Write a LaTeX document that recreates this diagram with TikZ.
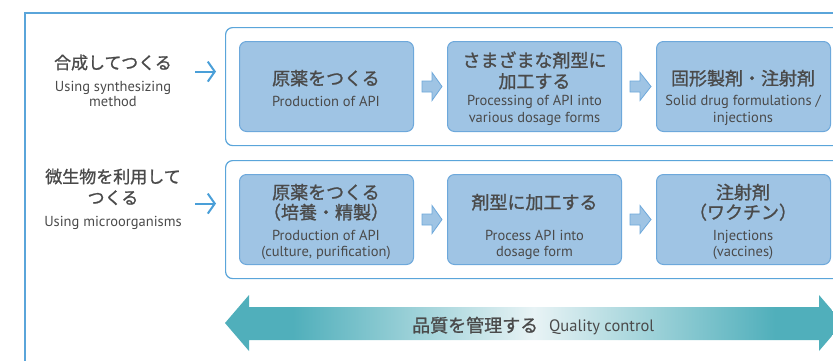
\documentclass[tikz,border=0pt]{standalone}
\usepackage{fontspec}
\setmainfont{PT Sans}
\newfontfamily\jpfont[FakeBold=1.2]{Noto Sans CJK JP}
\usetikzlibrary{calc,arrows.meta}
\definecolor{framec}{HTML}{5AA5DA}
\definecolor{boxfill}{HTML}{9FC4E4}
\definecolor{boxdraw}{HTML}{6DA8DB}
\definecolor{txt}{HTML}{4A4A4A}
\definecolor{tealc}{HTML}{50AFBB}
\definecolor{lightc}{HTML}{E8F3F5}
\definecolor{arrc}{HTML}{4A9FD8}
\pgfdeclarehorizontalshading{qcshade}{100bp}{color(0bp)=(tealc); color(25bp)=(tealc); color(30.5bp)=(tealc); color(50bp)=(lightc); color(69.5bp)=(tealc); color(75bp)=(tealc); color(100bp)=(tealc)}
\tikzset{
  rowbox/.style={draw=framec, line width=1.2pt, fill=white, rounded corners=7pt, minimum width=640pt, minimum height=118pt, inner sep=0pt, anchor=north west},
  stepbox/.style={draw=boxdraw, line width=1pt, fill=boxfill, rounded corners=7pt, minimum width=174pt, minimum height=90pt, inner sep=0pt, anchor=north west},
  jp/.style={font=\jpfont\fontsize{18}{20}\selectfont, text=txt, anchor=base, inner sep=0pt},
  jpl/.style={font=\jpfont\fontsize{17}{20}\selectfont, text=txt, anchor=base, inner sep=0pt},
  en/.style={font=\fontsize{14.5}{16}\selectfont, text=txt, anchor=base, inner sep=0pt},
  barrow/.style={draw=boxdraw, line width=0.8pt, fill=boxfill},
  thinarrow/.style={draw=arrc, line width=2pt, -{Straight Barb[length=7pt,width=20pt]}},
}
\newcommand\blockarr[2]{%
  \draw[barrow] ($(#1.east)+(8,-5.5)$) -- ($(#1.east)+(18,-5.5)$) -- ($(#1.east)+(18,-14)$)
    -- ($(#2.west)+(-5,0)$) -- ($(#1.east)+(18,14)$) -- ($(#1.east)+(18,5.5)$)
    -- ($(#1.east)+(8,5.5)$) -- cycle;}
\begin{document}
\begin{tikzpicture}[x=1pt,y=-1pt]
\useasboundingbox (0,0) rectangle (833,360);
\clip (0,0) rectangle (833,360);
% outer frame
\draw[framec, line width=1.3pt] (25,13) rectangle (900,420);
% rows
\node[rowbox] (r1) at (225,27) {};
\node[rowbox] (r2) at (225,160) {};
% step boxes row 1
\node[stepbox] (a1) at (239,41) {};
\node[stepbox] (b1) at (447,41) {};
\node[stepbox] (c1) at (656,41) {};
% step boxes row 2
\node[stepbox] (a2) at (239,174) {};
\node[stepbox] (b2) at (447,174) {};
\node[stepbox] (c2) at (656,174) {};
% block arrows
\blockarr{a1}{b1}
\blockarr{b1}{c1}
\blockarr{a2}{b2}
\blockarr{b2}{c2}
% left labels
\node[jpl] (l1a) at (113,69) {合成してつくる};
\node[en] (l1b) at (113,91) {Using synthesizing};
\node[en] (l1c) at (113,106) {method};
\node[jpl] (l2a) at (113,183) {微生物を利用して};
\node[jpl] (l2b) at (113,204) {つくる};
\node[en] (l2c) at (113,226) {Using microorganisms};
% thin arrows
\coordinate (s1) at ($(r1.west)+(-30,-15)$);
\coordinate (e1) at ($(r1.west)+(-9,-15)$);
\coordinate (s2) at ($(r2.west)+(-30,-16)$);
\coordinate (e2) at ($(r2.west)+(-9,-16)$);
\draw[thinarrow] (s1) -- (e1);
\draw[thinarrow] (s2) -- (e2);
% row 1 texts
\node[jp] (a1j) at (326,85) {原薬をつくる};
\node[en] (a1e) at (326,106) {Production of API};
\node[jp] (b1j) at (534.5,67) {さまざまな剤型に};
\node[jp] (b1k) at (534.5,88) {加工する};
\node[en] (b1e) at (534.5,105) {Processing of API into};
\node[en] (b1f) at (534.5,122) {various dosage forms};
\node[jp] (c1j) at (743,85) {固形製剤・注射剤};
\node[en] (c1e) at (743,105) {Solid drug formulations /};
\node[en] (c1f) at (743,122) {injections};
% row 2 texts
\node[jp] (a2j) at (326,199) {原薬をつくる};
\node[jp] (a2k) at (326,219) {（培養・精製）};
\node[en] (a2e) at (326,240) {Production of API};
\node[en] (a2f) at (326,256) {(culture, purification)};
\node[jp] (b2j) at (534.5,209) {剤型に加工する};
\node[en] (b2e) at (534.5,240) {Process API into};
\node[en] (b2f) at (534.5,256) {dosage form};
\node[jp] (c2j) at (743,199) {注射剤};
\node[jp] (c2k) at (743,219) {（ワクチン）};
\node[en] (c2e) at (743,240) {Injections};
\node[en] (c2f) at (743,256) {(vaccines)};
% quality control arrow
\shade[shading=qcshade] (225,323) -- (249,295) -- (249,307) -- (819,307) -- (819,295) -- (843,323)
  -- (819,351) -- (819,340) -- (249,340) -- (249,351) -- cycle;
\node[jp, anchor=base west] (qcj) at (412,332) {品質を管理する};
\node[en, font=\fontsize{16.5}{18}\selectfont, anchor=base west] (qce) at (549,331.5) {Quality control};
\end{tikzpicture}
\end{document}
